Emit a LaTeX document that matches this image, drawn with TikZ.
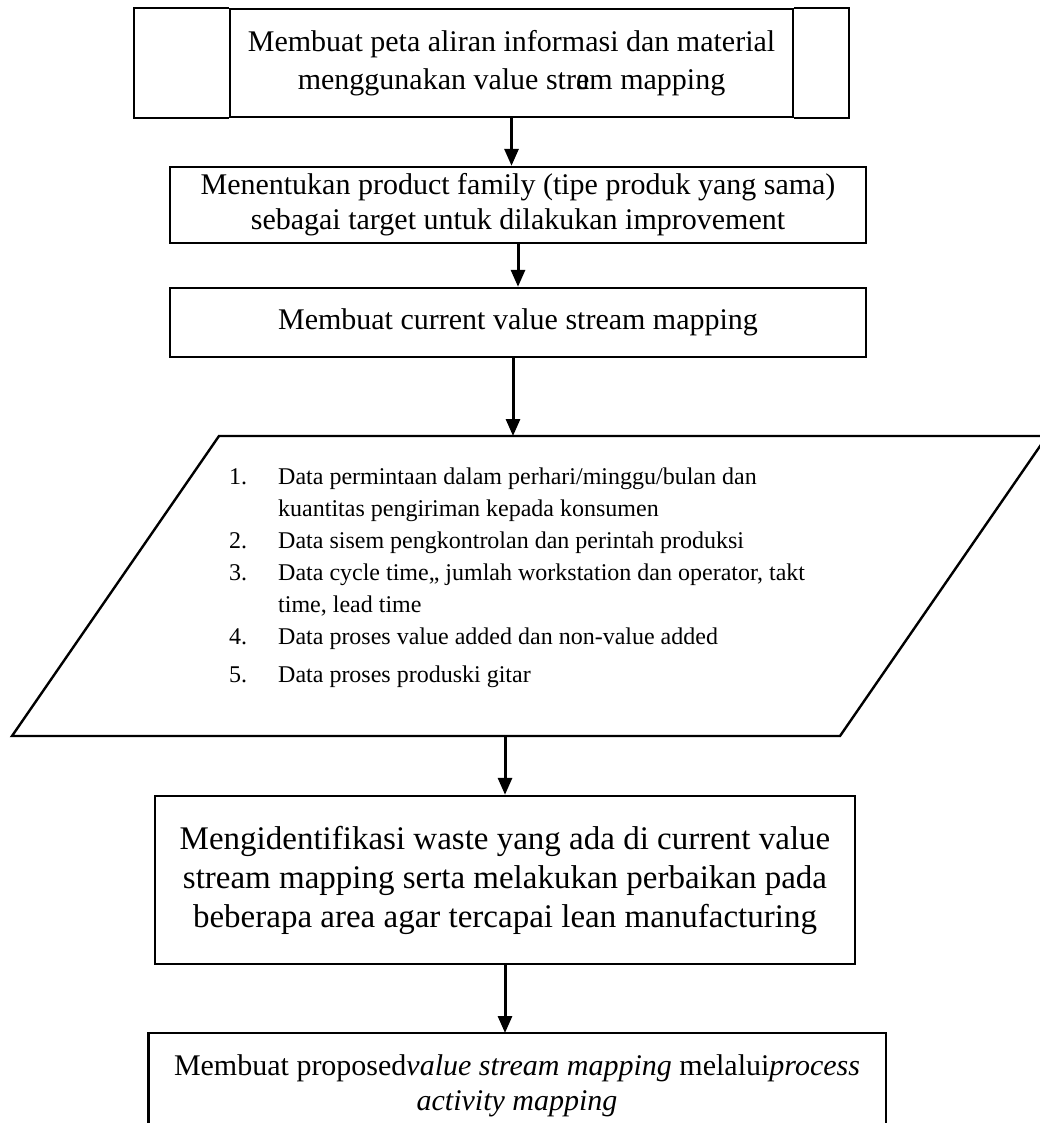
\documentclass[tikz,border=0pt]{standalone}
\usepackage{fontspec}
\setmainfont{Liberation Serif}
\usetikzlibrary{arrows.meta}

\begin{document}
\begin{tikzpicture}[x=1pt, y=-1pt,
    line join=miter,
    stepbox/.style={draw, line width=2.4pt, align=center, inner sep=0pt, font=\fontsize{30}{35}\selectfont},
    databox/.style={draw, line width=2.4pt},
    flowarrow/.style={-{Triangle[length=17pt, width=14pt]}, line width=3pt}
]
    % Page frame
    \clip (0,0) rectangle (1040,1123);

    % Steps
    \node[stepbox, font=\fontsize{30}{38}\selectfont, minimum width=563pt, minimum height=108pt] (box1) at (511.5,63)
        {Membuat peta aliran informasi dan material\\menggunakan value str\rlap{e}am mapping};
    \draw[line width=2.4pt] (box1.north west) -| ([xshift=-95pt]box1.south west) -- (box1.south west);
    \draw[line width=2.4pt] (box1.north east) -| ([xshift=55pt]box1.south east) -- (box1.south east);

    \node[stepbox, minimum width=696pt, minimum height=76pt] (box2) at (518,205)
        {Menentukan product family (tipe produk yang sama)\\sebagai target untuk dilakukan improvement};

    \node[stepbox, minimum width=696pt, minimum height=69pt] (box3) at (518,322.5)
        {Membuat current value stream mapping};

    % Data needed (parallelogram, runs past the right edge)
    \coordinate (dataSW) at (12,736);
    \coordinate (dataNW) at (219,436);
    \coordinate (dataNE) at (1047,436);
    \coordinate (dataSE) at (840,736);
    \draw[databox] (dataSW) -- (dataNW) -- (dataNE) -- (dataSE) -- cycle;
    \node[anchor=north west, inner sep=0pt, font=\fontsize{24}{32}\selectfont] (datalist) at (229,462) {%
        \begin{tabular}{@{}p{49pt}@{}l@{}}
        1. & Data permintaan dalam perhari/minggu/bulan dan\\
           & kuantitas pengiriman kepada konsumen\\
        2. & Data sisem pengkontrolan dan perintah produksi\\
        3. & Data cycle time,, jumlah workstation dan operator, takt\\
           & time, lead time\\
        4. & Data proses value added dan non-value added\\[6pt]
        5. & Data proses produski gitar
        \end{tabular}};

    \node[stepbox, font=\fontsize{33}{39}\selectfont, minimum width=700pt, minimum height=168pt] (box5) at (505,880)
        {Mengidentifikasi waste yang ada di current value\\stream mapping serta melakukan perbaikan pada\\beberapa area agar tercapai lean manufacturing};

    \node[stepbox, draw=none, anchor=north, inner ysep=20pt, minimum width=735pt] (box6) at (517,1033)
        {Membuat proposed\textit{value stream mapping} melalui\textit{process}\\\textit{activity mapping}};
    \draw[line width=2.4pt] ([yshift=-30pt]box6.south west) -- (box6.north west) -- (box6.north east) -- ([yshift=-30pt]box6.south east);

    % Arrows
    \draw[flowarrow] (box1.south) -- (box1.south |- box2.north);
    \draw[flowarrow] (box2.south) -- (box2.south |- box3.north);
    \draw[flowarrow] ([xshift=-5pt]box3.south) -- ([xshift=-5pt]box3.south |- dataNW);
    \draw[flowarrow] (box5.north |- dataSW) -- (box5.north);
    \draw[flowarrow] (box5.south) -- (box5.south |- box6.north);
\end{tikzpicture}
\end{document}
